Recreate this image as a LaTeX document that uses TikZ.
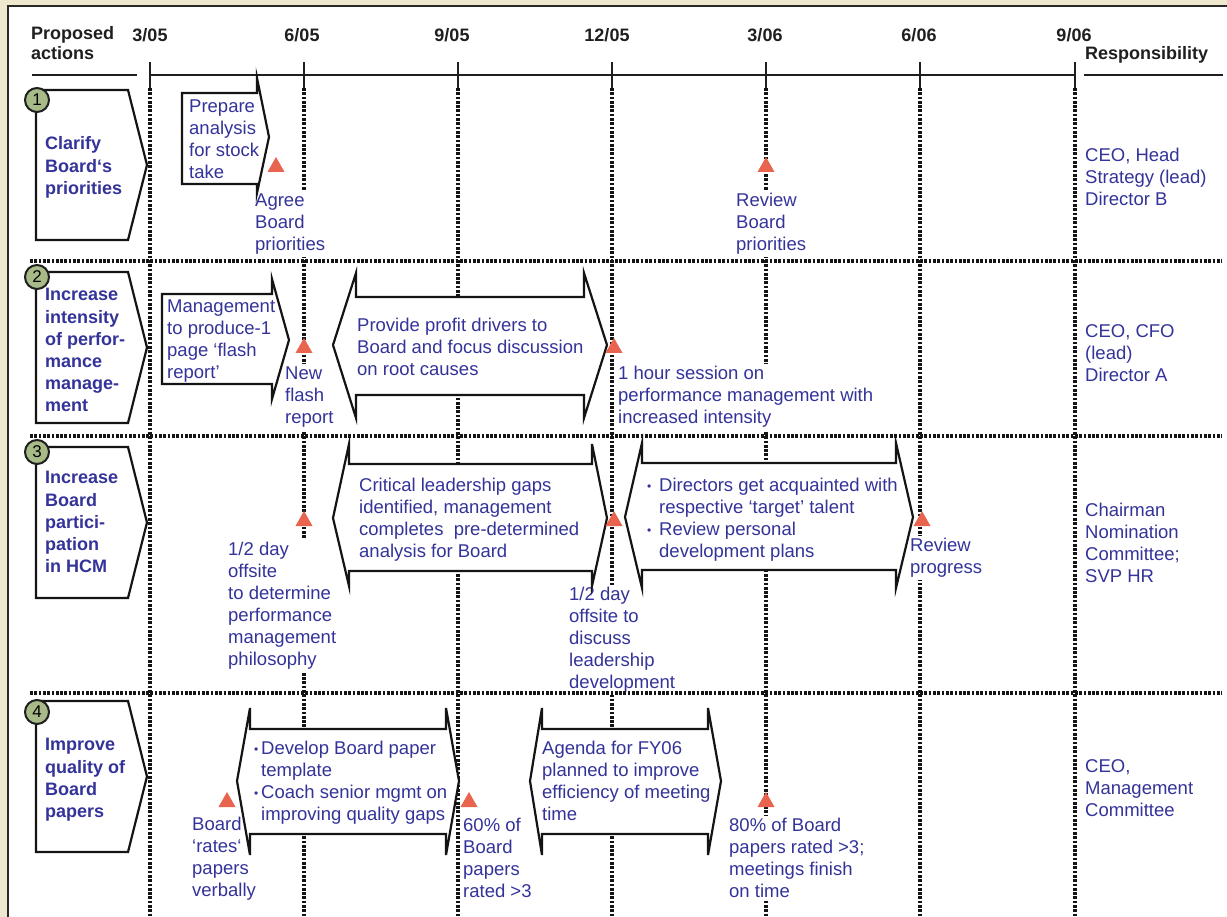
\documentclass[tikz,border=0pt]{standalone}
\usepackage{fontspec}
\setmainfont{Liberation Sans}
\definecolor{txtblue}{RGB}{51,51,153}
\definecolor{trired}{RGB}{232,100,78}
\definecolor{beige}{RGB}{238,233,206}
\definecolor{numgreen}{RGB}{168,186,136}
\definecolor{framec}{RGB}{40,40,40}
\newcommand\tfont{\fontsize{18.5}{22}\selectfont}
\newcommand\bfont{\fontsize{18}{22.2}\selectfont\bfseries}
\newcommand\hfont{\fontsize{18}{20}\selectfont\bfseries}
\newcommand\nfont{\fontsize{17}{20}\selectfont}
\tikzset{
 dotln/.style={line width=3.2pt, dash pattern=on 2.7pt off 1.6pt, color=black!92},
 shp/.style={draw=black!92, line width=2.2pt, fill=white, line join=miter},
 lbl/.style={fill=white, inner sep=2pt, align=left, text=txtblue, font=\tfont, anchor=north west},
 intxt/.style={inner sep=0pt, align=left, text=txtblue, font=\tfont, anchor=north west},
 boxtxt/.style={inner sep=0pt, align=left, text=txtblue, font=\bfont, anchor=north west},
 hdr/.style={inner sep=0pt, align=left, font=\hfont, text=black!88},
 numc/.style={circle, draw=black!88, line width=2pt, fill=numgreen, minimum size=24pt, inner sep=0pt, font=\nfont},
 solidln/.style={line width=2.5pt, color=black!88},
}
\newcommand\lab[4]{\node[lbl] (#1) at ({#2-2},{#3-9.3}) {\rule{0pt}{14pt}#4};}
\newcommand\itx[5]{\node[#1] (#2) at ({#3},{#4-7.3}) {\rule{0pt}{14pt}#5};}
\newcommand\mtri[2]{\fill[trired] ({#1-8.5},#2) -- ({#1+8.5},#2) -- (#1,{#2-15}) -- cycle;}
\newcommand\dbl[9]{\draw[shp] (#1,#7) -- (#2,#5) -- (#2,#6) -- (#3,#6) -- (#3,#5) -- (#4,#7) -- (#3,#9) -- (#3,#8) -- (#2,#8) -- (#2,#9) -- cycle;}
\newcommand\pent[2]{\draw[shp] (36,#1) -- (128,#1) -- (147,{(#1+#2)/2}) -- (128,#2) -- (36,#2) -- cycle;}
\newcommand\bul{\makebox[12pt][l]{\fontsize{12}{12}\selectfont\raisebox{1pt}{•}}}
\newcommand\bulb{\makebox[10pt][c]{\fontsize{12}{12}\selectfont\raisebox{1pt}{•}}}
\begin{document}
\begin{tikzpicture}[x=1pt,y=-1pt]
\useasboundingbox (0,0) rectangle (1227,917);
% background and frame
\fill[beige] (0,0) rectangle (1227,917);
\fill[white] (8,6) rectangle (1227,917);
\draw[framec, line width=2.2pt] (8,917) -- (8,6) -- (1227,6);

% header
\node[hdr, anchor=north west] (hpa) at (31,26) {Proposed\\actions};
\node[hdr, anchor=north west] (hresp) at (1085,46) {Responsibility};
\draw[solidln] (32,75) -- (137,75);
\draw[solidln] (1084,75) -- (1223,75);
\draw[solidln] (150,75) -- (1075,75);
\foreach \xx/\lb/\nm/\dx in {150/3\slash 05/d1/0,304/6\slash 05/d2/-2,458/9\slash 05/d3/-6,612/12\slash 05/d4/-5,766/3\slash 06/d5/-1,920/6\slash 06/d6/-1,1075/9\slash 06/d7/-1}{
  \node[hdr, anchor=center] (\nm) at ({\xx+\dx},35) {\lb};
  \draw[solidln] (\xx,62) -- (\xx,88);
  \draw[dotln] (\xx,88) -- (\xx,917);
}

% labels with white background (cover vertical lines)
\lab{l1a}{255}{200}{Agree\\Board\\priorities}
\lab{l1b}{736}{200}{Review\\Board\\priorities}
\lab{l2a}{285}{373}{New\\flash\\report}
\lab{l2b}{618}{373}{1 hour session on\\performance management with\\increased intensity}
\lab{l3a}{228}{549}{1/2 day\\offsite\\to determine\\performance\\management\\philosophy}
\lab{l3b}{569}{594}{1/2 day\\offsite to\\discuss\\leadership\\development}
\lab{l3c}{910}{545}{Review\\progress}
\lab{l4a}{192}{824}{Board\\‘rates‘\\papers\\verbally}
\lab{l4b}{463}{825}{60\% of\\Board\\papers\\rated >3}
\lab{l4c}{729}{825}{80\% of Board\\papers rated >3;\\meetings finish\\on time}

% row separators
\foreach \yy in {261,436,693}{\draw[dotln] (30,\yy) -- (1222,\yy);}

% action boxes
\pent{90}{240}
\pent{272}{423}
\pent{447}{598}
\pent{701}{852}
\node[numc] (c1) at (37,100) {1};
\node[numc] (c2) at (37,277) {2};
\node[numc] (c3) at (37,452) {3};
\node[numc] (c4) at (37,712) {4};
\itx{boxtxt}{b1}{45}{143}{Clarify\\Board‘s\\priorities}
\itx{boxtxt}{b2}{45}{294}{Increase\\intensity\\of perfor-\\mance\\manage-\\ment}
\itx{boxtxt}{b3}{45}{477}{Increase\\Board\\partici-\\pation\\in HCM}
\itx{boxtxt}{b4}{45}{744}{Improve\\quality of\\Board\\papers}

% right arrows
\draw[shp] (182,93) -- (257,93) -- (257,78) -- (269,137) -- (257,193) -- (257,184) -- (182,184) -- cycle;
\itx{intxt}{a1}{189}{106}{Prepare\\analysis\\for stock\\take}
\draw[shp] (162,294) -- (272,294) -- (272,279) -- (289,340) -- (272,399) -- (272,384) -- (162,384) -- cycle;
\itx{intxt}{a2}{167}{306}{Management\\to produce-1\\page ‘flash\\report’}

% double arrows
\dbl{333}{356}{584}{607}{273}{297}{345}{395}{418}
\itx{intxt}{t1}{357}{325}{Provide profit drivers to\\Board and focus discussion\\on root causes}
\dbl{333}{349}{592}{607}{444}{464}{518}{571}{586}
\itx{intxt}{t2}{359}{485}{Critical leadership gaps\\identified, management\\completes\ \ pre-determined\\analysis for Board}
\dbl{625}{642}{896}{913}{443}{463}{517}{570}{588}
\itx{intxt}{t3}{647}{485}{\bul Directors get acquainted with\\\hspace*{12pt}respective ‘target’ talent\\\bul Review personal\\\hspace*{12pt}development plans}
\dbl{237}{250}{446}{459}{708}{729}{781}{834}{855}
\itx{intxt}{t4}{251}{748}{\bulb Develop Board paper\\\hspace*{10pt}template\\\bulb Coach senior mgmt on\\\hspace*{10pt}improving quality gaps}
\dbl{530}{542}{708}{721}{708}{729}{781}{834}{855}
\itx{intxt}{t5}{542}{748}{Agenda for FY06\\planned to improve\\efficiency of meeting\\time}

% responsibilities
\itx{intxt}{r1}{1085}{155}{CEO, Head\\Strategy (lead)\\Director B}
\itx{intxt}{r2}{1085}{331}{CEO, CFO\\(lead)\\Director A}
\itx{intxt}{r3}{1085}{510}{Chairman\\Nomination\\Committee;\\SVP HR}
\itx{intxt}{r4}{1085}{766}{CEO,\\Management\\Committee}

% milestones
\mtri{276}{172}
\mtri{766}{172}
\mtri{304}{353}
\mtri{614}{353}
\mtri{304}{526}
\mtri{614}{526}
\mtri{922}{526}
\mtri{227}{807}
\mtri{469}{807}
\mtri{766}{807}
\end{tikzpicture}
\end{document}
